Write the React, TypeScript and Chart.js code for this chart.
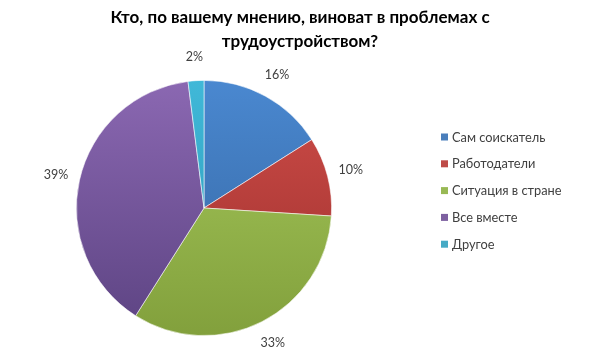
import React, { useEffect, useRef } from "react";
import { Chart, registerables } from "chart.js";

Chart.register(...registerables);

const titleLines = ["Кто, по вашему мнению, виноват в проблемах с", "трудоустройством?"];
const categories = ["Сам соискатель", "Работодатели", "Ситуация в стране", "Все вместе", "Другое"];
const values = [16, 10, 33, 39, 2];
const labels = ["16%", "10%", "33%", "39%", "2%"];
const topColors = ["#4a88d0", "#cf4d49", "#a6c95c", "#8b68b2", "#40b8d8"];
const bottomColors = ["#33649f", "#9c2f2c", "#82a03c", "#5c4382", "#2d97b5"];
const legendColors = ["#4a7ebb", "#be4b48", "#98b954", "#7d60a0", "#46aac5"];

const FONT = "Lato, 'Open Sans', sans-serif";

const overlay = {
  id: "overlay",
  afterDraw(chart: any) {
    const ctx = chart.ctx;
    ctx.save();
    // title
    ctx.fillStyle = "#000";
    ctx.font = `bold 17px ${FONT}`;
    ctx.textAlign = "center";
    ctx.textBaseline = "middle";
    ctx.fillText(titleLines[0], 300, 18);
    ctx.fillText(titleLines[1], 300, 42);
    // data labels
    const meta = chart.getDatasetMeta(0);
    ctx.font = `12.5px ${FONT}`;
    ctx.fillStyle = "#404040";
    meta.data.forEach((arc: any, i: number) => {
      const mid = (arc.startAngle + arc.endAngle) / 2;
      const r = arc.outerRadius + 24;
      const x = arc.x + Math.cos(mid) * r;
      const y = arc.y + Math.sin(mid) * r;
      ctx.fillText(labels[i], x, y);
    });
    // legend
    ctx.textAlign = "left";
    ctx.font = `12.8px ${FONT}`;
    categories.forEach((c, i) => {
      const y = 137 + i * 26.8;
      ctx.fillStyle = legendColors[i];
      ctx.fillRect(441, y - 3.5, 7, 7);
      ctx.fillStyle = "#404040";
      ctx.fillText(c, 452, y + 0.5);
    });
    ctx.restore();
  },
};

export default function App() {
  const ref = useRef<HTMLCanvasElement>(null);
  useEffect(() => {
    if (!ref.current) return;
    const chart = new Chart(ref.current, {
      type: "pie",
      data: {
        labels: categories,
        datasets: [
          {
            data: values,
            backgroundColor: (c: any) => {
              const ch = c.chart;
              const area = ch.chartArea;
              if (!area) return topColors[c.dataIndex];
              const g = ch.ctx.createLinearGradient(0, area.top, 0, area.bottom);
              g.addColorStop(0, topColors[c.dataIndex]);
              g.addColorStop(1, bottomColors[c.dataIndex]);
              return g;
            },
            borderColor: "rgba(255,255,255,0.7)",
            borderWidth: 0.8,
          },
        ],
      },
      options: {
        animation: false,
        responsive: false,
        maintainAspectRatio: false,
        layout: { padding: { left: 76, top: 80, right: 268, bottom: 21 } },
        plugins: {
          legend: { display: false },
          title: { display: false },
          tooltip: { enabled: false },
        },
      },
      plugins: [overlay],
    });
    return () => chart.destroy();
  }, []);
  return (
    <div style={{ position: "fixed", left: 0, top: 0, width: 600, height: 357, background: "#fff" }}>
      <canvas ref={ref} width={600} height={357} style={{ width: 600, height: 357 }} />
    </div>
  );
}
